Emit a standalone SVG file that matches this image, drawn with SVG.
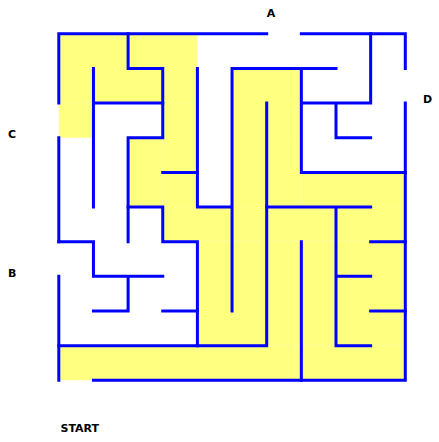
<svg xmlns="http://www.w3.org/2000/svg" width="439" height="442" viewBox="0 0 439 442">
<style>
.fill{fill:#ffff80;stroke:none}
.wall{fill:none;stroke:#0000ff;stroke-width:0.0866;stroke-linecap:square;stroke-linejoin:miter}
.lbl{font-family:"DejaVu Sans",sans-serif;font-weight:bold;font-size:11px;fill:#000}
</style>
<rect width="439" height="442" fill="#fff"/>
<g id="maze" transform="translate(58.8,33.8) scale(34.65)">
<g id="solution" class="fill">
<rect x="0" y="0" width="4" height="2"/>
<rect x="0" y="2" width="1" height="1"/>
<rect x="3" y="2" width="1" height="3"/>
<rect x="2" y="3" width="1" height="2"/>
<rect x="5" y="1" width="2" height="4"/>
<rect x="7" y="4" width="3" height="1"/>
<rect x="3" y="5" width="7" height="1"/>
<rect x="4" y="6" width="6" height="3"/>
<rect x="0" y="9" width="10" height="1"/>
</g>
<g id="connectors" class="wall">
<path d="M0,0H6M7,0H10M0,0V2M0,3V6M0,7V10M1,10H10M10,0V1M10,2V10"/>
<path d="M2,0V1H3V3H2V6"/>
<path d="M1,1V5M1,2H3M3,4H4"/>
<path d="M4,1V5H5M8,1H5V8"/>
<path d="M2,5H3V6H4V9"/>
<path d="M0,6H1V7H3M2,7V8H1M3,8H4"/>
<path d="M0,9H6V2"/>
<path d="M7,1V4H10M9,0V2H7M8,2V3H9"/>
<path d="M6,5H9M8,5V9H9M9,6H10M8,7H9M9,8H10M7,6V10"/>
</g>
</g>
<g id="labels" class="lbl">
<text id="label-A" x="271" y="17" text-anchor="middle">A</text>
<text id="label-C" x="8" y="138">C</text>
<text id="label-D" x="423" y="103">D</text>
<text id="label-B" x="8" y="277">B</text>
<text id="label-START" x="60.5" y="432">START</text>
</g>
</svg>
